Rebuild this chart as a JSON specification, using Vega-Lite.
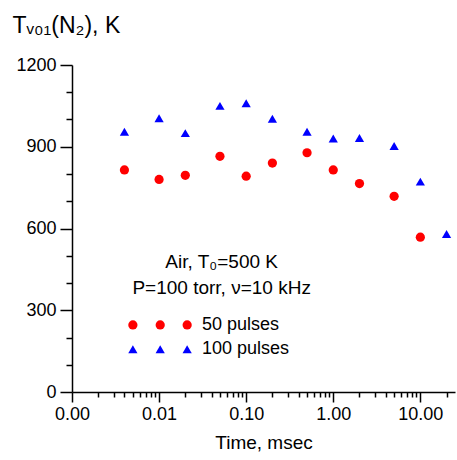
{
  "$schema": "https://vega.github.io/schema/vega-lite/v6.json",
  "autosize": "none",
  "width": 383,
  "height": 327,
  "padding": {"left": 72, "top": 65, "right": 2, "bottom": 68},
  "background": "white",
  "config": {
    "view": {"stroke": null},
    "font": "Liberation Sans",
    "axis": {"labelFont": "Liberation Sans", "titleFont": "Liberation Sans", "labelColor": "black", "titleColor": "black", "domainColor": "black", "tickColor": "black", "domainWidth": 1.5, "tickWidth": 1.5, "grid": false, "labelFontSize": 18, "titleFontSize": 19, "titleFontWeight": "normal"}
  },
  "datasets": {
    "points": [
      {"t": 0.004, "T": 955, "series": "100 pulses"},
      {"t": 0.01, "T": 1005, "series": "100 pulses"},
      {"t": 0.02, "T": 950, "series": "100 pulses"},
      {"t": 0.05, "T": 1050, "series": "100 pulses"},
      {"t": 0.1, "T": 1060, "series": "100 pulses"},
      {"t": 0.2, "T": 1003, "series": "100 pulses"},
      {"t": 0.5, "T": 955, "series": "100 pulses"},
      {"t": 1, "T": 930, "series": "100 pulses"},
      {"t": 2, "T": 932, "series": "100 pulses"},
      {"t": 5, "T": 903, "series": "100 pulses"},
      {"t": 10, "T": 772, "series": "100 pulses"},
      {"t": 20, "T": 580, "series": "100 pulses"},
      {"t": 0.004, "T": 815, "series": "50 pulses"},
      {"t": 0.01, "T": 780, "series": "50 pulses"},
      {"t": 0.02, "T": 795, "series": "50 pulses"},
      {"t": 0.05, "T": 865, "series": "50 pulses"},
      {"t": 0.1, "T": 792, "series": "50 pulses"},
      {"t": 0.2, "T": 840, "series": "50 pulses"},
      {"t": 0.5, "T": 878, "series": "50 pulses"},
      {"t": 1, "T": 815, "series": "50 pulses"},
      {"t": 2, "T": 765, "series": "50 pulses"},
      {"t": 5, "T": 718, "series": "50 pulses"},
      {"t": 10, "T": 568, "series": "50 pulses"}
    ],
    "keys": [
      {"t": 0.005, "T": 246, "series": "50 pulses"},
      {"t": 0.0103, "T": 246, "series": "50 pulses"},
      {"t": 0.021, "T": 246, "series": "50 pulses"},
      {"t": 0.005, "T": 157, "series": "100 pulses"},
      {"t": 0.0103, "T": 157, "series": "100 pulses"},
      {"t": 0.021, "T": 157, "series": "100 pulses"}
    ],
    "keylabels": [
      {"t": 0.031, "T": 246, "label": "50 pulses"},
      {"t": 0.031, "T": 157, "label": "100 pulses"}
    ],
    "notes": [
      {"t": 0.0523, "T": 478, "label": "Air, T₀=500 K"},
      {"t": 0.0523, "T": 380, "label": "P=100 torr, ν=10 kHz"}
    ]
  },
  "encoding": {
    "x": {
      "field": "t", "type": "quantitative",
      "scale": {"type": "log", "domain": [0.001, 25], "nice": false},
      "axis": {
        "title": "Time, msec",
        "titlePadding": 10,
        "values": [0.001,0.002,0.003,0.004,0.005,0.006,0.007,0.008,0.009,0.01,0.02,0.03,0.04,0.05,0.06,0.07,0.08,0.09,0.1,0.2,0.3,0.4,0.5,0.6,0.7,0.8,0.9,1,2,3,4,5,6,7,8,9,10,20],
        "labelExpr": "abs(log(datum.value)/LN10 - round(log(datum.value)/LN10)) < 0.000001 ? format(datum.value, '.2f') : ''",
        "labelOverlap": false,
        "labelFlush": false,
        "labelPadding": 3,
        "tickSize": {"condition": {"test": "abs(log(datum.value)/LN10 - round(log(datum.value)/LN10)) < 0.000001", "value": 10}, "value": 5}
      }
    },
    "y": {
      "field": "T", "type": "quantitative",
      "scale": {"domain": [0, 1200], "nice": false},
      "axis": {
        "title": "Tᵥ₀₁(N₂), K",
        "titleAngle": 0,
        "titleAlign": "left",
        "titleBaseline": "alphabetic",
        "titleX": -60,
        "titleY": -33,
        "titleFontSize": 23,
        "values": [0,100,200,300,400,500,600,700,800,900,1000,1100,1200],
        "labelExpr": "datum.value % 300 == 0 ? datum.label : ''",
        "format": "d",
        "labelOverlap": false,
        "labelFlush": false,
        "labelPadding": 4,
        "tickSize": {"condition": {"test": "datum.value % 300 == 0", "value": 12}, "value": 6}
      }
    }
  },
  "layer": [
    {
      "data": {"name": "points"},
      "mark": {"type": "point", "filled": true, "opacity": 1, "size": 85},
      "encoding": {
        "shape": {"field": "series", "type": "nominal", "scale": {"domain": ["50 pulses", "100 pulses"], "range": ["circle", "triangle-up"]}, "legend": null},
        "color": {"field": "series", "type": "nominal", "scale": {"domain": ["50 pulses", "100 pulses"], "range": ["#ff0000", "#0000ff"]}, "legend": null}
      }
    },
    {
      "data": {"name": "keys"},
      "mark": {"type": "point", "filled": true, "opacity": 1, "size": 85},
      "encoding": {
        "shape": {"field": "series", "type": "nominal", "legend": null},
        "color": {"field": "series", "type": "nominal", "legend": null}
      }
    },
    {
      "data": {"name": "keylabels"},
      "mark": {"type": "text", "align": "left", "baseline": "middle", "fontSize": 18, "font": "Liberation Sans", "color": "black"},
      "encoding": {"text": {"field": "label"}}
    },
    {
      "data": {"name": "notes"},
      "mark": {"type": "text", "align": "center", "baseline": "middle", "fontSize": 19, "font": "Liberation Sans", "color": "black"},
      "encoding": {"text": {"field": "label"}}
    }
  ]
}
